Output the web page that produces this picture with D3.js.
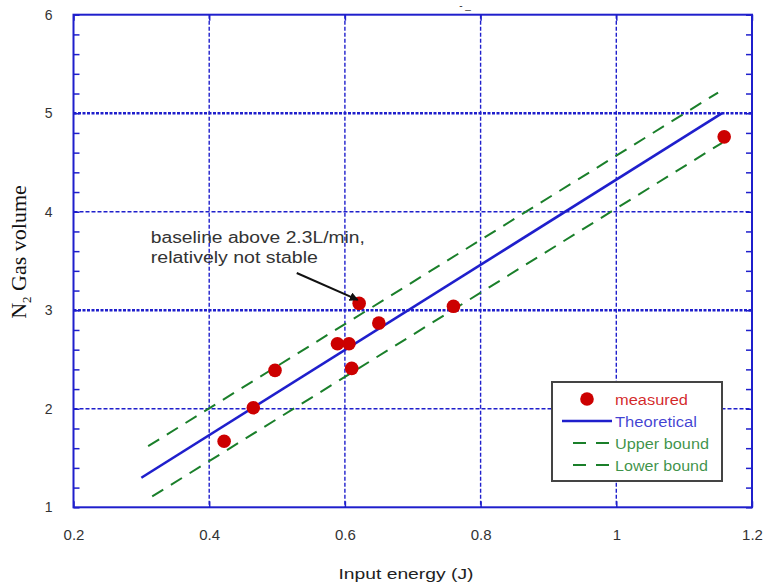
<!DOCTYPE html>
<html>
<head>
<meta charset="utf-8">
<script src="https://cdn.jsdelivr.net/npm/d3@7"></script>
<style>
  body { margin: 0; background: #fff; }
  svg { display: block; font-family: "Liberation Sans", Arial, sans-serif; }
</style>
</head>
<body>
<div id="chart"></div>
<script>
// measured points (input energy J, N2 gas volume)
const measuredX = [0.422, 0.465, 0.497, 0.589, 0.606, 0.610, 0.621, 0.650, 0.760, 1.159];
const measuredY = [1.67, 2.01, 2.39, 2.66, 2.66, 2.41, 3.07, 2.87, 3.04, 4.76];

// lines given by their two end points
const theoreticalX = [0.30, 1.156];
const theoreticalY = [1.30, 5.00];
const upperX = [0.31, 1.15];
const upperY = [1.62, 5.21];
const lowerX = [0.316, 1.156];
const lowerY = [1.11, 4.70];

const xTicks = [0.2, 0.4, 0.6, 0.8, 1, 1.2];
const yTicks = [1, 2, 3, 4, 5, 6];
const yMinorTicks = d3.range(1, 6.001, 0.2);

const legendItems = ["measured", "Theoretical", "Upper bound", "Lower bound"];

let margin = { top: 14.7, left: 73.5, right: 13, bottom: 75.7 },
    width = 765 - margin.left - margin.right,
    height = 583 - margin.top - margin.bottom;

const blue = "#1f1fcc", red = "#cc0000", green = "#1a7f2a";

let svg = d3.select("#chart").append("svg")
    .attr("width", 765)
    .attr("height", 583);

let g = svg.append("g")
    .attr("transform", "translate(" + margin.left + "," + margin.top + ")");

let x = d3.scaleLinear().domain([0.2, 1.2]).range([0, width]);
let y = d3.scaleLinear().domain([1, 6]).range([height, 0]);

// grid lines
g.append("g").selectAll("line")
    .data(xTicks.slice(1, -1))
    .enter().append("line")
    .attr("x1", d => x(d)).attr("x2", d => x(d))
    .attr("y1", 0).attr("y2", height)
    .attr("stroke", blue)
    .attr("stroke-width", 1.4)
    .attr("stroke-dasharray", "4,2");

g.append("g").selectAll("line")
    .data(yTicks.slice(1, -1))
    .enter().append("line")
    .attr("x1", 0).attr("x2", width)
    .attr("y1", d => y(d)).attr("y2", d => y(d))
    .attr("stroke", blue)
    .attr("stroke-width", d => d % 2 == 1 ? 2.6 : 1.4)
    .attr("stroke-dasharray", d => d % 2 == 1 ? "3,1.5" : "4,2");

// inward ticks
g.append("g").call(d3.axisLeft(y).tickValues(yMinorTicks).tickSize(-6).tickFormat(""))
    .call(a => a.select(".domain").remove())
    .selectAll("line").attr("stroke", blue).attr("stroke-width", 1.5);
g.append("g").attr("transform", "translate(" + width + ",0)")
    .call(d3.axisRight(y).tickValues(yMinorTicks).tickSize(-6).tickFormat(""))
    .call(a => a.select(".domain").remove())
    .selectAll("line").attr("stroke", blue).attr("stroke-width", 1.5);
g.append("g").attr("transform", "translate(0," + height + ")")
    .call(d3.axisBottom(x).tickValues(xTicks).tickSize(-6).tickFormat(""))
    .call(a => a.select(".domain").remove())
    .selectAll("line").attr("stroke", blue).attr("stroke-width", 1.5);
g.append("g")
    .call(d3.axisTop(x).tickValues(xTicks).tickSize(-6).tickFormat(""))
    .call(a => a.select(".domain").remove())
    .selectAll("line").attr("stroke", blue).attr("stroke-width", 1.5);

// tick labels
let xAxis = g.append("g").attr("transform", "translate(0," + height + ")")
    .call(d3.axisBottom(x).tickValues(xTicks).tickSize(0).tickPadding(22).tickFormat(d3.format("")));
xAxis.select(".domain").remove();
xAxis.selectAll("text").attr("fill", "#333").style("font-size", "15px")
    .style("font-family", "'Liberation Sans', Arial, sans-serif");

let yAxis = g.append("g")
    .call(d3.axisLeft(y).tickValues(yTicks).tickSize(0).tickPadding(21).tickFormat(d3.format("d")));
yAxis.select(".domain").remove();
yAxis.selectAll("text").attr("fill", "#333").style("font-size", "14px")
    .style("font-family", "'Liberation Sans', Arial, sans-serif");

// frame
g.append("rect")
    .attr("width", width).attr("height", height)
    .attr("fill", "none").attr("stroke", blue).attr("stroke-width", 2);

// lines
let line = d3.line().x(d => x(d[0])).y(d => y(d[1]));
const pairs = (xs, ys) => xs.map((v, i) => [v, ys[i]]);

g.append("path").datum(pairs(upperX, upperY))
    .attr("d", line).attr("fill", "none")
    .attr("stroke", green).attr("stroke-width", 2).attr("stroke-dasharray", "13,9");
g.append("path").datum(pairs(lowerX, lowerY))
    .attr("d", line).attr("fill", "none")
    .attr("stroke", green).attr("stroke-width", 2).attr("stroke-dasharray", "13,9");
g.append("path").datum(pairs(theoreticalX, theoreticalY))
    .attr("d", line).attr("fill", "none")
    .attr("stroke", blue).attr("stroke-width", 2.6);

// measured points
g.append("g").selectAll("circle")
    .data(pairs(measuredX, measuredY))
    .enter().append("circle")
    .attr("cx", d => x(d[0]))
    .attr("cy", d => y(d[1]))
    .attr("r", 6.8)
    .attr("fill", red);

// annotation
svg.append("defs").append("marker")
    .attr("id", "arrow")
    .attr("viewBox", "0 0 10 10")
    .attr("refX", 9).attr("refY", 5)
    .attr("markerWidth", 4.5).attr("markerHeight", 4.5)
    .attr("orient", "auto")
    .append("path").attr("d", "M0,0 L10,5 L0,10 z").attr("fill", "#111");

g.append("line")
    .attr("x1", x(0.529)).attr("y1", y(3.378))
    .attr("x2", x(0.619)).attr("y2", y(3.105))
    .attr("stroke", "#111").attr("stroke-width", 2)
    .attr("marker-end", "url(#arrow)");

let note = g.append("g").attr("fill", "#333").style("font-size", "16px");
note.append("text")
    .attr("x", x(0.314)).attr("y", y(3.683))
    .attr("textLength", 214).attr("lengthAdjust", "spacingAndGlyphs")
    .text("baseline above 2.3L/min,");
note.append("text")
    .attr("x", x(0.314)).attr("y", y(3.683) + 20)
    .attr("textLength", 167).attr("lengthAdjust", "spacingAndGlyphs")
    .text("relatively not stable");

// legend
let legend = g.append("g")
    .attr("transform", "translate(" + (552 - margin.left) + "," + (382 - margin.top) + ")");
legend.append("rect")
    .attr("width", 170).attr("height", 99)
    .attr("fill", "#fff").attr("stroke", "#444").attr("stroke-width", 2);

const legendColors = [red, blue, green, green];
const legendLengths = [73, 82, 94, 93];
let items = legend.selectAll("g.item")
    .data(legendItems)
    .enter().append("g")
    .attr("class", "item")
    .attr("transform", (d, i) => "translate(0," + (17 + i * 22) + ")");

items.each(function (d, i) {
    let it = d3.select(this);
    if (i == 0) {
        it.append("circle").attr("cx", 35).attr("cy", 0).attr("r", 6.8).attr("fill", red);
    } else if (i == 1) {
        it.append("line").attr("x1", 10).attr("x2", 60).attr("y1", 0).attr("y2", 0)
            .attr("stroke", blue).attr("stroke-width", 2.6);
    } else {
        it.append("line").attr("x1", 21).attr("x2", 57).attr("y1", 0).attr("y2", 0)
            .attr("stroke", green).attr("stroke-width", 2).attr("stroke-dasharray", "13,10");
    }
    it.append("text")
        .attr("x", 63).attr("y", 6)
        .attr("fill", legendColors[i]).attr("fill-opacity", 0.85)
        .style("font-size", "14px")
        .attr("textLength", legendLengths[i]).attr("lengthAdjust", "spacingAndGlyphs")
        .text(d);
});

// axis titles
svg.append("text")
    .attr("x", margin.left + x(0.69)).attr("y", 579)
    .attr("text-anchor", "middle")
    .attr("fill", "#222")
    .style("font-size", "15px")
    .attr("textLength", 135).attr("lengthAdjust", "spacingAndGlyphs")
    .text("Input energy (J)");

let yTitle = svg.append("text")
    .attr("transform", "translate(26,252) rotate(-90)")
    .attr("text-anchor", "middle")
    .attr("fill", "#111")
    .style("font-family", "'Liberation Serif', 'Times New Roman', serif")
    .style("font-size", "22px");
yTitle.append("tspan").text("N");
yTitle.append("tspan").attr("dy", 5).style("font-size", "13px").text("2");
yTitle.append("tspan").attr("dy", -5).text(" Gas volume");

// cut-off title remnant at the top edge
svg.append("text")
    .attr("x", 465).attr("y", 9)
    .attr("text-anchor", "middle")
    .attr("fill", "#333")
    .style("font-size", "10px")
    .text("- _");
</script>
</body>
</html>
